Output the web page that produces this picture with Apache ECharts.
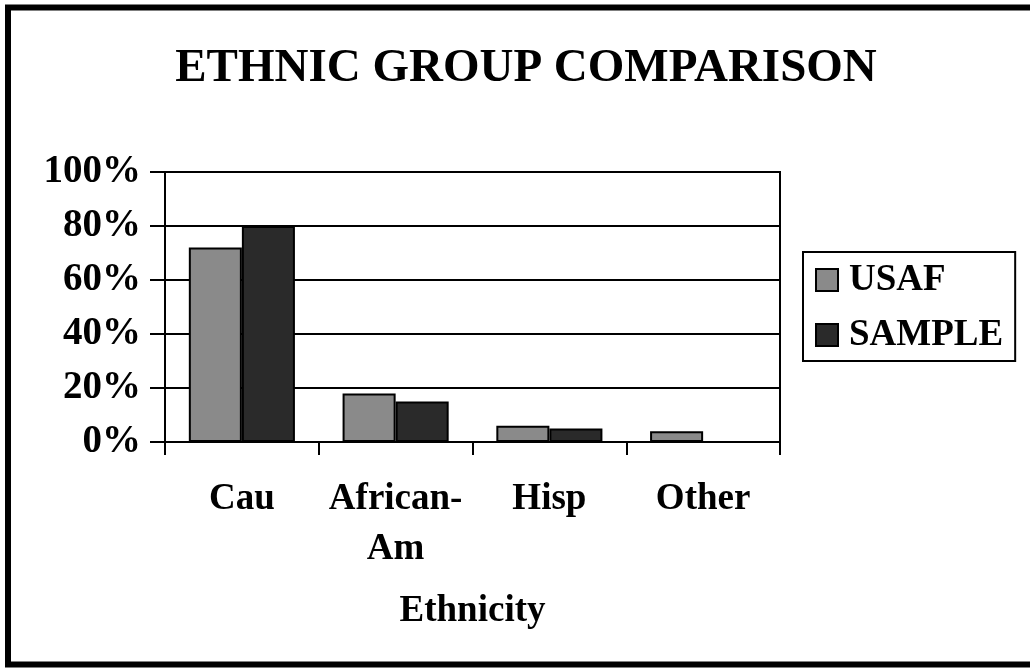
<!DOCTYPE html>
<html>
<head>
<meta charset="utf-8">
<script src="https://cdn.jsdelivr.net/npm/echarts@6/dist/echarts.min.js"></script>
<style>html,body{margin:0;padding:0;background:#fff}#c{width:1030px;height:669px}</style>
</head>
<body>
<div id="c"></div>
<script>
var categories = ['Cau', 'African-\nAm', 'Hisp', 'Other'];
var usaf = [72, 18, 6, 4];
var sample = [80, 15, 5, 0];
var yTicks = [0, 20, 40, 60, 80, 100];

var FONT = '"Liberation Serif", "Times New Roman", serif';
var chart = echarts.init(document.getElementById('c'));
chart.setOption({
  backgroundColor: '#fff',
  animation: false,
  title: {
    text: 'ETHNIC GROUP COMPARISON',
    left: 521, top: 40, textAlign: 'center',
    textStyle: { fontFamily: FONT, fontWeight: 'bold', fontSize: 47, color: '#000' }
  },
  legend: {
    left: 803, top: 252, orient: 'vertical',
    icon: 'rect', itemWidth: 22, itemHeight: 22, itemGap: 15,
    padding: [8, 12, 6, 12],
    borderColor: '#000', borderWidth: 2,
    textStyle: { fontFamily: FONT, fontWeight: 'bold', fontSize: 37, color: '#000', lineHeight: 40, padding: [0, 0, 0, 6] },
    data: ['USAF', 'SAMPLE']
  },
  grid: {
    left: 165, right: 250, top: 172, bottom: 227,
    show: true, borderColor: '#000', borderWidth: 2, backgroundColor: 'transparent'
  },
  xAxis: {
    type: 'category', data: categories,
    name: 'Ethnicity', nameLocation: 'middle', nameGap: 151,
    nameTextStyle: { fontFamily: FONT, fontWeight: 'bold', fontSize: 37, color: '#000' },
    axisLine: { lineStyle: { color: '#000', width: 2 } },
    axisTick: { show: true, length: 13, lineStyle: { color: '#000', width: 2 } },
    axisLabel: { margin: 32, fontFamily: FONT, fontWeight: 'bold', fontSize: 37, color: '#000', lineHeight: 50, interval: 0 }
  },
  yAxis: {
    type: 'value', min: 0, max: 100, interval: 20,
    axisLine: { show: true, lineStyle: { color: '#000', width: 2 } },
    axisTick: { show: true, length: 15, lineStyle: { color: '#000', width: 2 } },
    splitLine: { show: true, lineStyle: { color: '#000', width: 2 } },
    axisLabel: {
      margin: 24, fontFamily: FONT, fontWeight: 'bold', fontSize: 39, color: '#000',
      formatter: function (v) { return yTicks.indexOf(v) >= 0 ? v + '%' : ''; }
    }
  },
  series: [
    { name: 'USAF', type: 'bar', data: usaf, barGap: '0%', barCategoryGap: '31%',
      itemStyle: { color: '#8a8a8a', borderColor: '#000', borderWidth: 2 } },
    { name: 'SAMPLE', type: 'bar', data: sample, barGap: '0%', barCategoryGap: '31%',
      itemStyle: { color: '#2a2a2a', borderColor: '#000', borderWidth: 2 } }
  ],
  graphic: [
    { type: 'rect', shape: { x: 8, y: 7.5, width: 1040, height: 657 }, silent: true,
      style: { fill: 'none', stroke: '#000', lineWidth: 6 } }
  ]
});
</script>
</body>
</html>
